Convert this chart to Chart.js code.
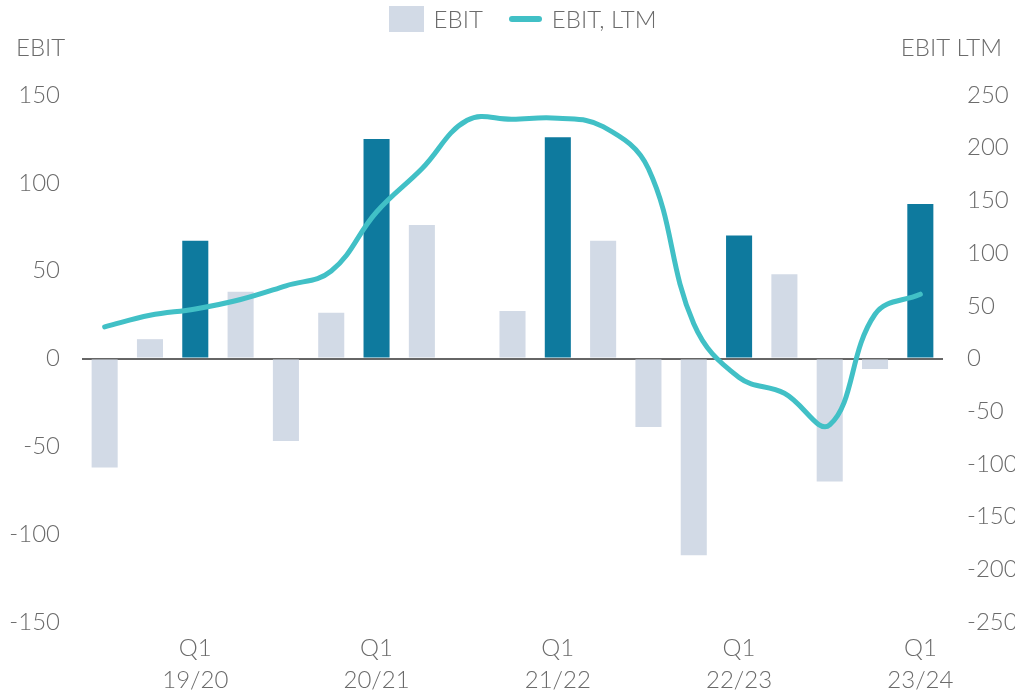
<!DOCTYPE html>
<html>
<head>
<meta charset="utf-8">
<script src="https://cdn.jsdelivr.net/npm/chart.js@4"></script>
<style>
  html, body { margin: 0; padding: 0; background: #fff; }
  #wrap { position: relative; width: 1015px; height: 692px; }
  #legend {
    position: absolute; top: 4px; left: 15px; width: 1015px;
    display: flex; justify-content: center; align-items: center;
    font-family: Lato, "Open Sans", sans-serif; font-weight: 300;
    font-size: 24px; color: #6b6b6b;
  }
  .item { display: flex; align-items: center; margin: 0 13px; }
  .box { width: 35px; height: 26px; background: #d2dae6; margin-right: 10px; }
  .ln { width: 33px; height: 6px; border-radius: 3px; background: #41c0c6; margin-right: 10px; }
</style>
</head>
<body>
<div id="wrap">
  <canvas id="chart" width="1015" height="692"></canvas>
  <div id="legend">
    <div class="item"><span class="box"></span>EBIT</div>
    <div class="item"><span class="ln"></span>EBIT, LTM</div>
  </div>
</div>
<script>
// quarters, Q3 18/19 .. Q1 23/24
const quarters = [
  "Q3 18/19", "Q4 18/19",
  "Q1 19/20", "Q2 19/20", "Q3 19/20", "Q4 19/20",
  "Q1 20/21", "Q2 20/21", "Q3 20/21", "Q4 20/21",
  "Q1 21/22", "Q2 21/22", "Q3 21/22", "Q4 21/22",
  "Q1 22/23", "Q2 22/23", "Q3 22/23", "Q4 22/23",
  "Q1 23/24"
];
const ebit = [-62, 11, 67, 38, -47, 26, 125, 76, 0, 27, 126, 67, -39, -112, 70, 48, -70, -6, 88];
const ebitLtm = [30, 41, 47, 56, 69, 83, 139, 180, 226, 227, 228, 220, 180, 33, -18, -33, -63, 42, 61];
const leftTicks = [-150, -100, -50, 0, 50, 100, 150];
const rightTicks = [-250, -200, -150, -100, -50, 0, 50, 100, 150, 200, 250];

const textColor = "#6b6b6b";
const font = { family: "Lato, 'Open Sans', sans-serif", size: 24, weight: 300, lineHeight: 1.33 };

// only Q1 gets a label, on two lines
const labels = quarters.map(q => q.startsWith("Q1") ? q.split(" ") : "");
const barColors = quarters.map(q => q.startsWith("Q1") ? "#0e7a9e" : "#d2dae6");

// axis titles above the value axes
const axisTitles = {
  id: "axisTitles",
  afterDraw(chart) {
    const ctx = chart.ctx;
    ctx.save();
    ctx.font = "300 24px Lato, 'Open Sans', sans-serif";
    ctx.fillStyle = textColor;
    ctx.textBaseline = "middle";
    ctx.textAlign = "left";
    ctx.fillText("EBIT", 16, 48);
    ctx.textAlign = "right";
    ctx.fillText("EBIT LTM", 1002, 48);
    ctx.restore();
  }
};

new Chart(document.getElementById("chart"), {
  data: {
    labels: labels,
    datasets: [
      {
        type: "line",
        label: "EBIT, LTM",
        data: ebitLtm,
        yAxisID: "y1",
        borderColor: "#41c0c6",
        borderWidth: 5,
        borderCapStyle: "round",
        tension: 0.4,
        pointRadius: 0,
        order: 0
      },
      {
        type: "bar",
        label: "EBIT",
        data: ebit,
        yAxisID: "y",
        backgroundColor: barColors,
        categoryPercentage: 1,
        barPercentage: 0.575,
        order: 1
      }
    ]
  },
  options: {
    responsive: false,
    animation: false,
    layout: { padding: { top: 95, right: 0, bottom: 0, left: 0 } },
    plugins: { legend: { display: false }, tooltip: { enabled: false } },
    scales: {
      x: {
        grid: { display: false },
        border: { display: false },
        ticks: {
          color: textColor, font: font, autoSkip: false, maxRotation: 0,
          padding: 2
        },
        afterFit(scale) { scale.height = 70; }
      },
      y: {
        position: "left",
        min: -150, max: 150,
        afterBuildTicks(scale) { scale.ticks = leftTicks.map(v => ({ value: v })); },
        grid: {
          drawTicks: false,
          color: ctx => ctx.tick && ctx.tick.value === 0 ? "#666" : "rgba(0,0,0,0)",
          lineWidth: 2
        },
        border: { display: false },
        ticks: { color: textColor, font: font, padding: 22 },
        afterFit(scale) { scale.width = 82; }
      },
      y1: {
        position: "right",
        min: -250, max: 250,
        afterBuildTicks(scale) { scale.ticks = rightTicks.map(v => ({ value: v })); },
        grid: { display: false, drawTicks: false },
        border: { display: false },
        ticks: { color: textColor, font: font, padding: 24 },
        afterFit(scale) { scale.width = 72; }
      }
    }
  },
  plugins: [axisTitles]
});
</script>
</body>
</html>
